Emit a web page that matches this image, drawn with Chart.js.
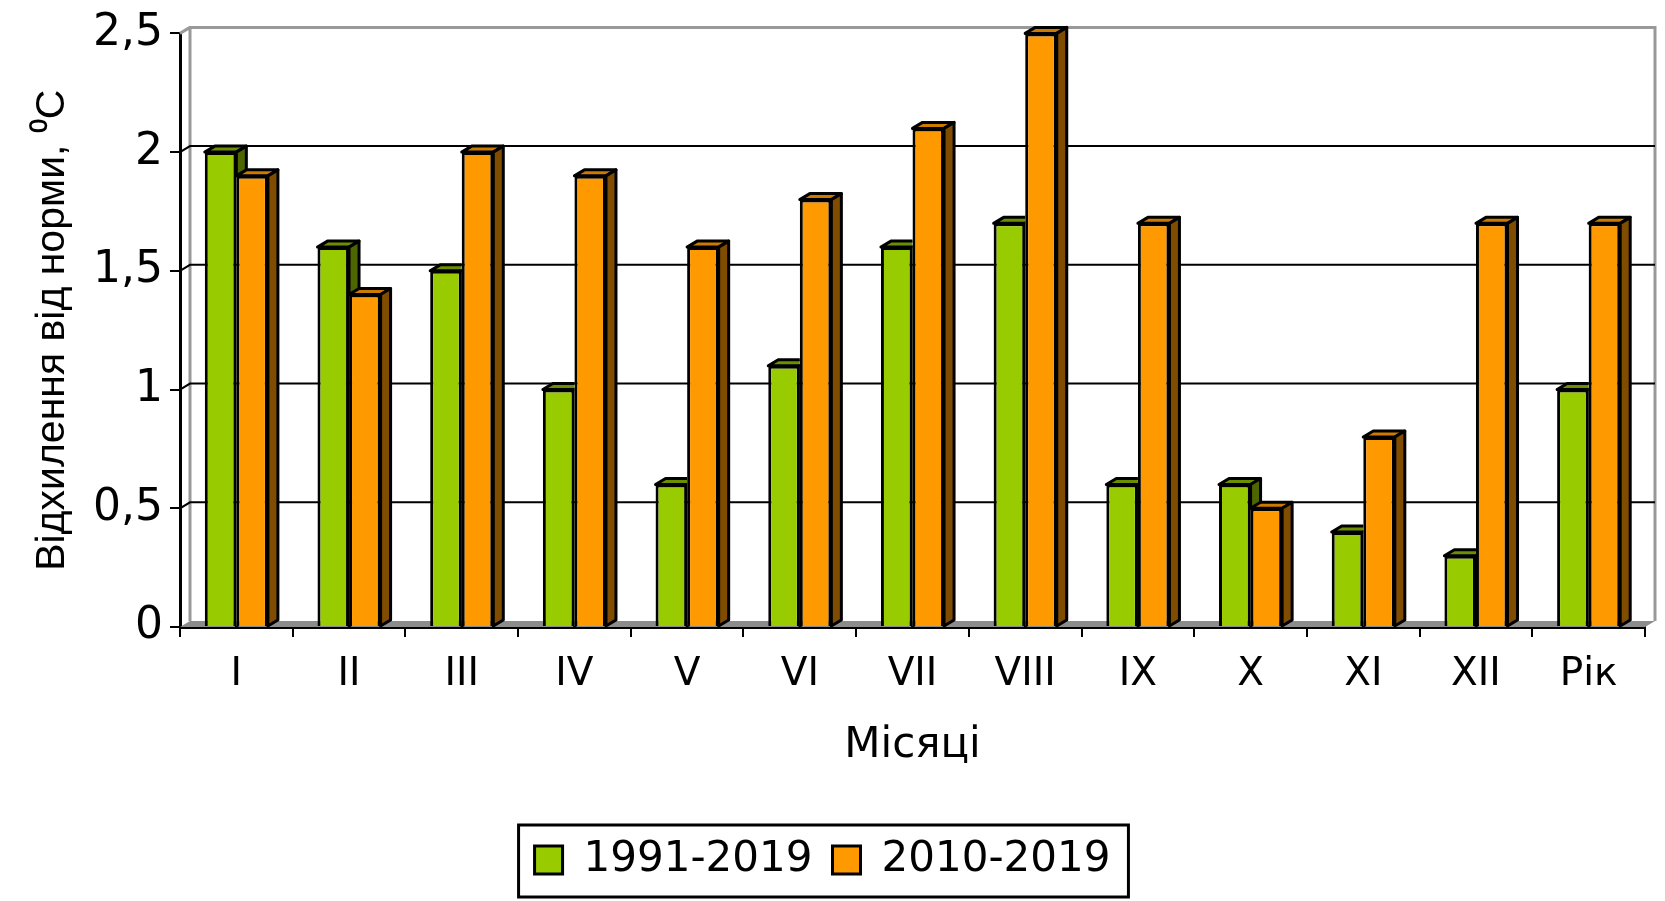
<!DOCTYPE html>
<html>
<head>
<meta charset="utf-8">
<script src="https://cdn.jsdelivr.net/npm/chart.js@4.4.0/dist/chart.umd.min.js"></script>
<style>
  html, body { margin: 0; padding: 0; background: #fff; }
</style>
</head>
<body>
<canvas id="chart" width="1665" height="901"></canvas>
<script>
// дані
const months = ['I', 'II', 'III', 'IV', 'V', 'VI', 'VII', 'VIII', 'IX', 'X', 'XI', 'XII', 'Рік'];
const series1991 = [2.0, 1.6, 1.5, 1.0, 0.6, 1.1, 1.6, 1.7, 0.6, 0.6, 0.4, 0.3, 1.0];
const series2010 = [1.9, 1.4, 2.0, 1.9, 1.6, 1.8, 2.1, 2.5, 1.7, 0.5, 0.8, 1.7, 1.7];
const seriesNames = ['1991-2019', '2010-2019'];
const yTickLabels = ['0', '0,5', '1', '1,5', '2', '2,5'];

const DX = 10, DY = 6;   // глибина "3D"
const faceColors = [
  { top: '#6B8F00', side: '#4D6600' },
  { top: '#CC7A00', side: '#7F4C00' }
];

// задня стінка, підлога, сітка
const depthPlugin = {
  id: 'depth',
  beforeDatasetsDraw(chart) {
    const { ctx, chartArea: a, scales: { y } } = chart;
    ctx.save();
    ctx.fillStyle = '#8c8c8c';
    ctx.beginPath();
    ctx.moveTo(a.left, a.bottom);
    ctx.lineTo(a.left + DX, a.bottom - DY);
    ctx.lineTo(a.right + DX, a.bottom - DY);
    ctx.lineTo(a.right, a.bottom);
    ctx.closePath();
    ctx.fill();

    ctx.strokeStyle = '#999';
    ctx.lineWidth = 3;
    ctx.beginPath();
    ctx.moveTo(a.left + DX, a.bottom - DY);
    ctx.lineTo(a.left + DX, a.top - DY);
    ctx.lineTo(a.right + DX, a.top - DY);
    ctx.lineTo(a.right + DX, a.bottom - DY);
    ctx.moveTo(a.left, a.top);
    ctx.lineTo(a.left + DX, a.top - DY);
    ctx.stroke();

    ctx.strokeStyle = '#000';
    ctx.lineWidth = 2;
    y.ticks.forEach(t => {
      if (t.value <= y.min || t.value >= y.max) return;
      const py = y.getPixelForValue(t.value);
      ctx.beginPath();
      ctx.moveTo(a.left, py);
      ctx.lineTo(a.left + DX, py - DY);
      ctx.lineTo(a.right + DX, py - DY);
      ctx.stroke();
    });
    ctx.restore();
  },
  afterDatasetsDraw(chart) {
    const ctx = chart.ctx;
    const metas = chart.data.datasets.map((d, i) => chart.getDatasetMeta(i));
    metas.forEach((meta, di) => {
      const next = metas[di + 1];
      meta.data.forEach((bar, j) => {
        const { x, y, base, width } = bar.getProps(['x', 'y', 'base', 'width'], true);
        const l = x - width / 2, r = x + width / 2;
        ctx.save();
        if (next) {
          // не малювати поверх сусіднього стовпчика
          const nb = next.data[j].getProps(['x', 'y', 'base', 'width'], true);
          ctx.beginPath();
          ctx.rect(0, 0, chart.width, chart.height);
          ctx.rect(nb.x - nb.width / 2, nb.y, nb.width, nb.base - nb.y);
          ctx.clip('evenodd');
        }
        ctx.lineWidth = 3;
        ctx.strokeStyle = '#000';
        ctx.lineJoin = 'round';

        ctx.beginPath();
        ctx.moveTo(l, y);
        ctx.lineTo(l + DX, y - DY);
        ctx.lineTo(r + DX, y - DY);
        ctx.lineTo(r, y);
        ctx.closePath();
        ctx.fillStyle = faceColors[di].top;
        ctx.fill();
        ctx.stroke();

        ctx.beginPath();
        ctx.moveTo(r, y);
        ctx.lineTo(r + DX, y - DY);
        ctx.lineTo(r + DX, base - DY);
        ctx.lineTo(r, base);
        ctx.closePath();
        ctx.fillStyle = faceColors[di].side;
        ctx.fill();
        ctx.stroke();
        ctx.restore();
      });
    });
  }
};

// рамка легенди
const legendFrame = {
  id: 'legendFrame',
  afterDraw(chart) {
    const hb = chart.legend && chart.legend.legendHitBoxes;
    if (!hb || !hb.length) return;
    const ctx = chart.ctx;
    const first = hb[0], last = hb[hb.length - 1];
    const left = first.left - 16;
    const right = last.left + last.width + 18;
    const cy = first.top + first.height / 2;
    ctx.save();
    ctx.strokeStyle = '#000';
    ctx.lineWidth = 3;
    ctx.strokeRect(left, cy - 35, right - left, 72);
    ctx.restore();
  }
};

const ctx = document.getElementById('chart').getContext('2d');
const chart = new Chart(ctx, {
  type: 'bar',
  data: {
    labels: months,
    datasets: [
      {
        label: seriesNames[0],
        data: series1991,
        backgroundColor: '#99CC00',
        borderColor: '#000',
        borderWidth: 3
      },
      {
        label: seriesNames[1],
        data: series2010,
        backgroundColor: '#FF9900',
        borderColor: '#000',
        borderWidth: 3
      }
    ]
  },
  options: {
    responsive: false,
    animation: false,
    devicePixelRatio: 1,
    categoryPercentage: 0.56,
    barPercentage: 1,
    layout: { padding: { top: 29, left: 0, right: 20, bottom: 10 } },
    plugins: {
      tooltip: { enabled: false },
      legend: {
        position: 'bottom',
        labels: {
          color: '#000',
          font: { family: 'DejaVu Sans', size: 42 },
          boxWidth: 28,
          boxHeight: 28,
          padding: 20
        }
      }
    },
    scales: {
      x: {
        z: 1,
        grid: { display: true, offset: true, drawOnChartArea: false, drawTicks: true, tickLength: 10, color: '#000', lineWidth: 2 },
        border: { display: true, color: '#000', width: 3 },
        ticks: { color: '#000', font: { family: 'DejaVu Sans', size: 39 }, padding: 14, maxRotation: 0 },
        title: {
          display: true,
          text: 'Місяці',
          color: '#000',
          font: { family: 'DejaVu Sans', size: 42 },
          padding: { top: 0, bottom: 48 }
        },
        afterFit(scale) { scale.height = 192; }
      },
      y: {
        z: 1,
        min: 0,
        max: 2.5,
        grid: { display: true, drawOnChartArea: false, drawTicks: true, tickLength: 10, color: '#000', lineWidth: 2 },
        border: { display: true, color: '#000', width: 3 },
        ticks: {
          stepSize: 0.5,
          color: '#000',
          font: { family: 'DejaVu Sans', size: 44 },
          padding: 7,
          callback: (value, index) => yTickLabels[index]
        },
        title: {
          display: true,
          text: 'Відхилення від норми, ⁰C',
          color: '#000',
          font: { family: 'Liberation Sans', size: 41 },
          padding: { top: 28, bottom: 0 }
        },
        afterFit(scale) { scale.width = 180; }
      }
    }
  },
  plugins: [depthPlugin, legendFrame]
});
</script>
</body>
</html>
